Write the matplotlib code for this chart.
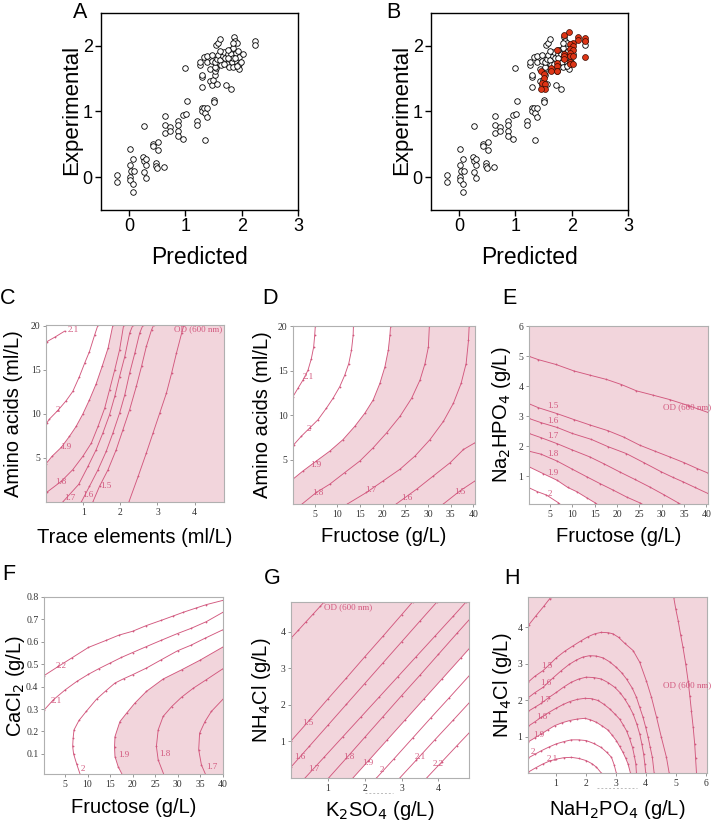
import matplotlib

matplotlib.use("Agg")

import matplotlib.pyplot as plt
from matplotlib.lines import Line2D

plt.rcParams["font.family"] = ["Liberation Sans", "DejaVu Sans"]

# ---- panel A / B : predicted vs experimental ----
WHITE_PTS = [
    (-0.22, 0.04), (-0.22, -0.08), (0.02, 0.43), (0.02, 0.18), (0.06, 0.27), (0.03, 0.10),
    (0.08, 0.10), (0.02, 0.0), (0.02, -0.04), (0.06, -0.11), (0.06, -0.23),
    (0.24, 0.31), (0.27, 0.25), (0.30, 0.27), (0.30, 0.18), (0.27, 0.08), (0.30, -0.01), (0.27, 0.78),
    (0.43, 0.51), (0.43, 0.47), (0.52, 0.54), (0.52, 0.42), (0.48, 0.21), (0.48, 0.17), (0.49, 0.14),
    (0.62, 0.15), (0.63, 0.80), (0.64, 0.93), (0.64, 0.68), (0.73, 0.76), (0.73, 0.70), (0.87, 0.86),
    (0.87, 0.79), (0.87, 0.71), (0.87, 0.63), (0.96, 0.58), (0.96, 0.95), (1.01, 0.96), (1.03, 1.16),
    (0.99, 1.66), (1.20, 0.85), (1.20, 0.79), (1.29, 1.06), (1.29, 1.00), (1.34, 0.57), (1.33, 1.06),
    (1.35, 0.98), (1.39, 1.06), (1.39, 0.91), (1.51, 1.18), (1.51, 1.14), (1.29, 1.37), (1.30, 1.52),
    (1.30, 1.55), (1.26, 1.71), (1.26, 1.76), (1.33, 1.83), (1.39, 1.84), (1.39, 1.75), (1.48, 1.86),
    (1.48, 1.77), (1.44, 1.64), (1.44, 1.46), (1.48, 1.41), (1.49, 1.48), (1.52, 1.55), (1.53, 1.62),
    (1.55, 1.66), (1.56, 1.42), (1.52, 1.68), (1.53, 1.75), (1.56, 1.80), (1.58, 1.86), (1.55, 2.01),
    (1.57, 2.05), (1.61, 2.10), (1.61, 1.78), (1.63, 1.71), (1.66, 1.85), (1.68, 1.90), (1.70, 1.81),
    (1.72, 1.40), (1.73, 1.73), (1.76, 1.87), (1.77, 1.68), (1.79, 1.93), (1.81, 1.87), (1.81, 1.35),
    (1.82, 1.76), (1.84, 1.81), (1.85, 1.97), (1.85, 1.68), (1.86, 2.13), (1.88, 2.07), (1.89, 1.89),
    (1.91, 1.76), (1.92, 2.05), (1.94, 1.92), (1.95, 1.83), (1.95, 1.72), (1.95, 1.65), (2.02, 1.88),
    (2.23, 2.07), (2.23, 2.01), (1.61, 1.92), (1.68, 1.73), (1.75, 1.81), (1.88, 1.81), (1.99, 1.76),
    (1.84, 2.04), (1.91, 1.70), (1.75, 1.93),
]
RED_PTS = [
    (1.86, 2.16), (1.96, 2.21), (2.11, 2.14), (2.11, 2.09), (2.24, 2.12), (2.24, 2.08), (2.02, 2.04),
    (1.97, 2.03), (2.02, 1.99), (1.97, 1.95), (2.02, 1.93), (1.86, 1.87), (1.87, 1.84), (1.87, 1.80),
    (1.97, 1.89), (1.97, 1.84), (2.02, 1.84), (1.97, 1.76), (1.97, 1.72), (2.02, 1.72), (1.74, 1.93),
    (1.73, 1.74), (1.73, 1.69), (1.73, 1.61), (1.64, 1.66), (1.64, 1.61), (1.74, 1.61), (1.46, 1.62),
    (1.50, 1.57), (1.50, 1.51), (1.47, 1.43), (1.53, 1.42), (1.53, 1.35), (1.46, 1.34), (2.24, 1.83),
]

# ---- contour panels: levels, traced lines, labels ----
C_LINES = {
    "2.1": [(0.02, 18.2), (0.25, 18.75), (0.5, 19.4)],
    "2": [(0.02, 8.96), (0.09, 9.41), (0.32, 10.40), (0.54, 11.49), (0.72, 12.55), (0.90, 14.25),
          (1.04, 15.76), (1.17, 17.09), (1.31, 18.98), (1.40, 20.11)],
    "1.9": [(0.0, 4.35), (0.16, 5.18), (0.41, 6.2), (0.63, 7.45), (0.81, 8.58), (0.99, 9.98),
            (1.17, 11.61), (1.35, 13.42), (1.51, 15.39), (1.67, 17.47), (1.80, 20.1)],
    "1.8": [(0.02, 1.10), (0.41, 2.34), (0.72, 3.67), (0.99, 5.18), (1.22, 6.69), (1.40, 8.58),
            (1.58, 10.66), (1.71, 12.74), (1.85, 15.01), (1.98, 17.28), (2.09, 20.1)],
    "1.7": [(0.45, 0.0), (0.88, 2.0), (1.13, 4.05), (1.35, 5.94), (1.53, 7.83), (1.71, 9.91),
            (1.85, 11.99), (1.98, 14.25), (2.12, 16.52), (2.25, 19.17), (2.34, 20.1)],
    "1.6": [(0.95, 0.0), (1.17, 1.78), (1.40, 3.67), (1.62, 5.75), (1.80, 7.83), (1.98, 10.09),
            (2.12, 12.17), (2.25, 14.63), (2.39, 16.90), (2.52, 19.17), (2.61, 20.1)],
    "1.5": [(1.26, 0.0), (1.44, 1.78), (1.67, 3.67), (1.89, 5.94), (2.07, 8.2), (2.25, 10.47),
            (2.43, 13.12), (2.57, 15.39), (2.70, 17.66), (2.84, 19.55), (2.90, 20.1)],
    "OD": [(2.23, 0.0), (2.48, 2.91), (2.70, 5.56), (2.88, 7.83), (3.06, 10.09), (3.24, 12.36),
           (3.38, 14.63), (3.51, 16.90), (3.65, 19.17), (3.71, 20.1)],
}
C_LABELS = [("2.1", 0.72, 19.55), ("2", 0.32, 10.4), ("1.9", 0.52, 6.3), ("1.8", 0.41, 2.27),
            ("1.7", 0.65, 0.45), ("1.6", 1.13, 0.83), ("1.5", 1.6, 1.78), ("OD (600 nm)", 4.75, 19.6)]

D_LINES = {
    "2.1": [(0.2, 12.1), (1.29, 13.03), (2.40, 13.96), (3.51, 15.07), (4.25, 16.37), (4.76, 17.67),
            (4.99, 18.98), (5.13, 20.05)],
    "2": [(0.41, 6.70), (2.03, 7.63), (3.88, 8.56), (5.72, 9.49), (7.57, 10.79), (9.05, 11.91),
          (10.52, 13.21), (11.63, 14.51), (12.52, 15.82), (13.11, 17.30), (13.48, 18.98), (13.55, 20.05)],
    "1.9": [(0.0, 2.72), (2.40, 3.72), (5.35, 4.84), (8.31, 5.95), (11.26, 7.26), (13.85, 8.75),
            (16.07, 10.23), (17.91, 11.72), (19.39, 13.59), (20.50, 15.45), (21.24, 17.31),
            (21.60, 18.98), (21.75, 20.05)],
    "1.8": [(2.2, 0.0), (5.35, 1.30), (8.31, 2.23), (11.63, 3.54), (14.96, 4.84), (17.91, 6.33),
            (20.86, 8.0), (23.82, 9.86), (26.40, 11.91), (28.25, 13.96), (29.36, 15.82),
            (30.10, 17.68), (30.32, 20.05)],
    "1.7": [(12.2, 0.0), (16.43, 1.30), (20.13, 2.61), (23.82, 3.91), (27.14, 5.40), (30.47, 7.26),
            (33.42, 9.30), (35.63, 11.35), (37.33, 13.58), (38.44, 15.82), (38.96, 18.42), (39.11, 20.05)],
    "1.6": [(23.0, 0.0), (27.51, 1.67), (31.20, 3.16), (34.90, 4.65), (37.85, 6.14), (40.4, 6.9)],
    "1.5": [(33.4, 0.0), (37.11, 1.49), (40.4, 2.6)],
}
D_LABELS = [("2.1", 3.5, 14.3), ("2", 3.73, 8.4), ("1.9", 5.2, 4.35), ("1.8", 5.7, 1.2),
            ("1.7", 17.5, 1.6), ("1.6", 25.3, 0.7), ("1.5", 37.1, 1.3)]

E_LINES = {
    "OD": [(0.3, 4.99), (2.38, 4.88), (6.3, 4.72), (10.43, 4.50), (14.0, 4.36), (17.66, 4.22),
           (21.0, 4.05), (24.37, 3.84), (28.0, 3.70), (31.8, 3.55), (36.0, 3.35), (40.4, 3.12)],
    "1.5": [(0.3, 3.41), (2.38, 3.28), (6.6, 3.08), (10.43, 2.88), (14.0, 2.70), (18.03, 2.51),
            (21.5, 2.30), (25.1, 2.03), (28.5, 1.83), (31.8, 1.64), (35.0, 1.45), (38.0, 1.25), (40.4, 1.10)],
    "1.6": [(0.3, 2.92), (3.0, 2.78), (6.6, 2.62), (10.0, 2.42), (14.3, 2.22), (18.0, 1.98),
            (22.1, 1.75), (26.0, 1.45), (29.95, 1.14), (32.5, 0.96), (34.8, 0.81), (37.5, 0.62), (40.4, 0.42)],
    "1.7": [(0.3, 2.42), (3.0, 2.28), (6.6, 2.08), (10.0, 1.87), (13.9, 1.64), (17.2, 1.40),
            (20.6, 1.14), (24.0, 0.89), (27.3, 0.64), (30.5, 0.38), (33.7, 0.11), (35.0, 0.0)],
    "1.8": [(0.3, 1.83), (3.0, 1.73), (6.6, 1.50), (10.0, 1.23), (13.2, 0.98), (16.2, 0.75),
            (19.2, 0.53), (22.2, 0.30), (25.1, 0.11), (26.5, 0.0)],
    "1.9": [(0.3, 1.31), (3.5, 1.08), (6.6, 0.86), (9.0, 0.62), (11.0, 0.48), (13.2, 0.28),
            (15.1, 0.11), (16.2, 0.0)],
    "2": [(0.3, 0.61), (2.2, 0.48), (4.2, 0.37), (6.9, 0.11), (7.8, 0.0)],
}
E_LABELS = [("1.5", 5.6, 3.33), ("1.6", 5.7, 2.84), ("1.7", 5.7, 2.33), ("1.8", 5.7, 1.75),
            ("1.9", 5.7, 1.11), ("2", 5.0, 0.40), ("OD (600 nm)", 30.3, 3.28)]

F_LINES = {
    "2.2": [(0.33, 0.449), (3.5, 0.49), (6.5, 0.528), (10.2, 0.575), (14.2, 0.607), (17.0, 0.63),
            (20.0, 0.647), (23.0, 0.672), (26.4, 0.696), (29.0, 0.715), (31.3, 0.732), (34.0, 0.75),
            (36.4, 0.766), (40.1, 0.785)],
    "2.1": [(0.33, 0.295), (2.4, 0.341), (5.0, 0.385), (7.6, 0.423), (10.2, 0.455), (12.5, 0.48),
            (15.0, 0.505), (17.5, 0.53), (20.0, 0.552), (23.0, 0.578), (26.4, 0.607), (30.0, 0.637),
            (33.0, 0.66), (36.4, 0.69), (40.1, 0.732)],
    "2": [(8.5, 0.0), (7.6, 0.054), (6.9, 0.10), (6.7, 0.133), (6.8, 0.17), (7.0, 0.207), (8.1, 0.249),
          (9.7, 0.289), (12.0, 0.344), (14.0, 0.38), (16.1, 0.416), (18.0, 0.435), (20.0, 0.453),
          (23.1, 0.483), (26.4, 0.52), (30.0, 0.56), (33.0, 0.585), (36.0, 0.615), (40.1, 0.654)],
    "1.9": [(17.9, 0.0), (16.8, 0.043), (16.1, 0.088), (16.0, 0.13), (16.1, 0.177), (17.2, 0.244),
            (18.7, 0.282), (20.5, 0.326), (23.1, 0.379), (26.8, 0.434), (30.9, 0.475), (34.9, 0.517),
            (40.1, 0.577)],
    "1.8": [(27.1, 0.0), (25.7, 0.073), (25.3, 0.133), (25.7, 0.207), (26.8, 0.267), (28.7, 0.311),
            (30.9, 0.353), (33.5, 0.393), (36.4, 0.431), (40.1, 0.48)],
    "1.7": [(36.4, 0.0), (35.3, 0.051), (34.7, 0.118), (34.9, 0.192), (36.1, 0.244), (37.5, 0.289),
            (40.1, 0.344)],
}
F_LABELS = [("2.2", 4.25, 0.49), ("2.1", 3.14, 0.338), ("2", 8.9, 0.031), ("1.9", 18.0, 0.095),
            ("1.8", 27.2, 0.10), ("1.7", 37.6, 0.04)]

G_LINES = {
    "OD": [(0.0, 3.82), (0.2, 4.04), (0.4, 4.26), (0.6, 4.48), (0.8, 4.70), (0.9, 4.81)],
    "1.5": [(0.0, 1.01), (0.5, 1.58), (1.0, 2.16), (1.5, 2.73), (2.0, 3.31), (2.5, 3.88), (3.0, 4.46),
            (3.3, 4.81)],
    "1.6": [(0.0, 0.30), (0.5, 0.87), (1.0, 1.44), (1.5, 2.01), (2.0, 2.58), (2.5, 3.15), (3.0, 3.72),
            (3.5, 4.29), (3.96, 4.81)],
    "1.7": [(0.38, 0.0), (0.9, 0.57), (1.4, 1.12), (1.9, 1.67), (2.4, 2.22), (2.9, 2.77), (3.4, 3.32),
            (3.9, 3.87), (4.4, 4.42), (4.75, 4.81)],
    "1.8": [(1.02, 0.0), (1.5, 0.54), (2.0, 1.11), (2.5, 1.68), (3.0, 2.25), (3.5, 2.81), (4.0, 3.38),
            (4.5, 3.95), (4.83, 4.32)],
    "1.9": [(1.68, 0.0), (2.1, 0.47), (2.6, 1.03), (3.1, 1.59), (3.6, 2.15), (4.1, 2.71), (4.6, 3.27),
            (4.83, 3.53)],
    "2": [(2.32, 0.0), (2.8, 0.53), (3.3, 1.09), (3.8, 1.65), (4.3, 2.20), (4.83, 2.79)],
    "2.1": [(2.95, 0.0), (3.4, 0.49), (3.9, 1.04), (4.4, 1.58), (4.83, 2.05)],
    "2.2": [(3.68, 0.0), (4.1, 0.45), (4.5, 0.88), (4.83, 1.23)],
}
G_LABELS = [("OD (600 nm)", 0.9, 4.68), ("1.5", 0.47, 1.5), ("1.6", 0.25, 0.57), ("1.7", 0.63, 0.25),
            ("1.8", 1.56, 0.57), ("1.9", 2.09, 0.41), ("2", 2.46, 0.23), ("2.1", 3.5, 0.57),
            ("2.2", 3.99, 0.39)]

H_LINES = {
    "1.4": [(0.11, 4.07), (0.35, 4.32), (0.6, 4.57), (0.8, 4.78), (0.85, 4.83)],
    "OD": [(4.93, 4.83), (5.0, 4.5), (5.08, 4.18), (5.16, 3.8), (5.24, 3.45), (5.33, 3.0), (5.41, 2.53),
           (5.47, 2.1), (5.52, 1.71), (5.58, 1.25), (5.63, 0.80), (5.66, 0.4), (5.69, 0.0)],
    "1.5": [(0.08, 2.49), (0.3, 2.65), (0.58, 2.81), (0.8, 2.98), (1.02, 3.16), (1.3, 3.34), (1.58, 3.49),
            (1.85, 3.63), (2.08, 3.74), (2.3, 3.82), (2.52, 3.86), (2.75, 3.85), (2.91, 3.82), (3.1, 3.72),
            (3.3, 3.56), (3.58, 3.36), (3.8, 3.04), (4.02, 2.53), (4.19, 2.08), (4.36, 1.53), (4.52, 0.98),
            (4.69, 0.43), (4.78, 0.0)],
    "1.6": [(0.08, 2.06), (0.3, 2.2), (0.58, 2.35), (0.9, 2.6), (1.19, 2.81), (1.45, 2.98), (1.69, 3.10),
            (1.9, 3.18), (2.13, 3.22), (2.35, 3.21), (2.58, 3.16), (2.8, 3.05), (3.02, 2.90), (3.2, 2.75),
            (3.36, 2.58), (3.55, 2.33), (3.69, 2.08), (3.8, 1.8), (3.91, 1.53), (4.0, 1.25), (4.08, 0.98),
            (4.15, 0.7), (4.22, 0.43), (4.28, 0.0)],
    "1.7": [(0.08, 1.69), (0.3, 1.8), (0.52, 1.91), (0.77, 2.07), (1.02, 2.21), (1.27, 2.36), (1.52, 2.49),
            (1.77, 2.58), (2.02, 2.63), (2.27, 2.62), (2.52, 2.58), (2.75, 2.48), (2.97, 2.35), (3.15, 2.2),
            (3.3, 2.03), (3.45, 1.83), (3.58, 1.62), (3.7, 1.35), (3.8, 1.07), (3.87, 0.8), (3.93, 0.52),
            (3.97, 0.25), (4.0, 0.0)],
    "1.8": [(0.08, 1.28), (0.3, 1.40), (0.52, 1.53), (0.77, 1.66), (1.02, 1.78), (1.25, 1.88), (1.47, 1.96),
            (1.72, 2.02), (1.97, 2.05), (2.2, 2.04), (2.41, 1.99), (2.6, 1.89), (2.8, 1.76), (2.97, 1.62),
            (3.13, 1.48), (3.25, 1.32), (3.36, 1.16), (3.46, 0.95), (3.56, 0.70), (3.62, 0.47), (3.67, 0.25),
            (3.69, 0.0)],
    "1.9": [(0.08, 0.85), (0.3, 0.96), (0.52, 1.07), (0.75, 1.19), (0.97, 1.30), (1.22, 1.38), (1.47, 1.44),
            (1.72, 1.48), (1.97, 1.50), (2.16, 1.46), (2.36, 1.39), (2.55, 1.29), (2.74, 1.18), (2.88, 1.04),
            (3.02, 0.89), (3.13, 0.73), (3.24, 0.57), (3.33, 0.41), (3.41, 0.25), (3.49, 0.0)],
    "2": [(0.08, 0.41), (0.3, 0.51), (0.52, 0.61), (0.77, 0.71), (1.02, 0.80), (1.27, 0.86), (1.52, 0.91),
          (1.77, 0.91), (2.02, 0.89), (2.27, 0.81), (2.52, 0.70), (2.7, 0.57), (2.86, 0.43), (2.95, 0.22),
          (3.02, 0.0)],
    "2.1": [(0.08, 0.02), (0.33, 0.14), (0.58, 0.25), (0.8, 0.33), (1.02, 0.38), (1.27, 0.42), (1.52, 0.43),
            (1.77, 0.40), (2.02, 0.34), (2.2, 0.26), (2.36, 0.16), (2.52, 0.0)],
}
H_LABELS = [("1.5", 0.7, 2.95), ("1.6", 0.68, 2.47), ("1.7", 0.64, 1.99), ("1.8", 0.53, 1.53),
            ("1.9", 0.45, 1.05), ("2", 0.25, 0.57), ("2.1", 0.88, 0.38), ("OD (600 nm)", 4.56, 2.40)]

LINE_COL = "#d2587e"
PINK = "#f2d5dc"
SERIF = ["Liberation Serif", "DejaVu Serif"]


def scatter_panel(ax, red=None):
    xs, ys = zip(*WHITE_PTS)
    ax.scatter(xs, ys, s=16, facecolor="white", edgecolor="black", linewidth=0.6, zorder=2)
    if red:
        rx, ry = zip(*red)
        ax.scatter(rx, ry, s=18, facecolor="#de3516", edgecolor="#3a0a00", linewidth=0.5, zorder=3)
    ax.set_xlim(-0.5, 3)
    ax.set_ylim(-0.5, 2.5)
    ax.set_xticks([0, 1, 2, 3])
    ax.set_yticks([0, 1, 2])
    ax.tick_params(direction="out", length=4, width=1, labelsize=13, pad=2)
    for sp in ax.spines.values():
        sp.set_linewidth(1.0)
    ax.set_xlabel("Predicted", fontsize=16.5, va="center")
    ax.set_ylabel("Experimental", fontsize=16, va="center")
    ax.xaxis.set_label_coords(0.5, -0.24)


def contour_panel(ax, lines, labels, boundary, corners, xlim, ylim, xticks, yticks,
                  xlabel, ylabel, pink_face=False):
    ax.set_xlim(*xlim)
    ax.set_ylim(*ylim)
    x0, x1 = xlim
    y0, y1 = ylim
    pts = {"bl": (x0, y0), "br": (x1, y0), "tl": (x0, y1), "tr": (x1, y1)}
    poly = list(lines[boundary]) + [pts[c] for c in corners]
    px, py = zip(*poly)
    if pink_face:
        ax.set_facecolor(PINK)
        ax.fill(px, py, color="white", lw=0, zorder=0)
    else:
        ax.fill(px, py, color=PINK, lw=0, zorder=0)
    for key, seg in lines.items():
        lx, ly = zip(*seg)
        ax.plot(lx, ly, color=LINE_COL, lw=0.65, marker="o", ms=1.3, mew=0, zorder=2)
    for txt, tx, ty in labels:
        ha = "center"
        if txt.startswith("OD"):
            ha = "right" if tx > 0.9 * x1 and tx < x1 else "left"
        ax.text(tx, ty, txt, color=LINE_COL, fontsize=6.5, family=SERIF, ha=ha, va="center", zorder=3)
    ax.set_xticks(xticks)
    ax.set_yticks(yticks)
    ax.set_xticklabels([f"{t:g}" for t in xticks], family=SERIF)
    ax.set_yticklabels([f"{t:g}" for t in yticks], family=SERIF)
    ax.tick_params(direction="out", length=2, width=0.6, color="#888888", labelsize=7,
                   labelcolor="#333333", pad=2)
    for sp in ax.spines.values():
        sp.set_color("#b0b0b0")
        sp.set_linewidth(0.8)
    ax.set_xlabel(xlabel, fontsize=14.5, va="center")
    ax.set_ylabel(ylabel, fontsize=14.5, va="center")


fig = plt.figure(figsize=(7.13, 8.22), dpi=100)
W, H = 713.0, 822.0


def add_axes(l, t, r, b):
    return fig.add_axes([l / W, 1 - b / H, (r - l) / W, (b - t) / H])


axA = add_axes(101, 13, 298, 210)
scatter_panel(axA)
axA.yaxis.set_label_coords(-0.15, 0.51)

axB = add_axes(431, 13, 628, 210)
scatter_panel(axB, RED_PTS)
axB.yaxis.set_label_coords(-0.15, 0.51)

axC = add_axes(46, 325, 224, 502)
contour_panel(axC, C_LINES, C_LABELS, "1.9", ["tr", "br", "bl"], (0, 4.79), (0, 20.1),
              [1, 2, 3, 4], [5, 10, 15, 20], "Trace elements (ml/L)", "Amino acids (ml/L)")
axC.xaxis.set_label_coords(0.5, -0.198)
axC.yaxis.set_label_coords(-0.185, 0.5)

axD = add_axes(293, 326, 475, 504)
contour_panel(axD, D_LINES, D_LABELS, "1.9", ["tr", "br", "bl"], (0.2, 40.4), (0, 20.05),
              [5, 10, 15, 20, 25, 30, 35, 40], [5, 10, 15, 20], "Fructose (g/L)", "Amino acids (ml/L)")
axD.xaxis.set_label_coords(0.5, -0.185)
axD.yaxis.set_label_coords(-0.17, 0.5)

axE = add_axes(529, 326, 708, 504)
contour_panel(axE, E_LINES, E_LABELS, "1.9", ["bl"], (0.3, 40.4), (0.07, 6.0),
              [5, 10, 15, 20, 25, 30, 35, 40], [1, 2, 3, 4, 5, 6], "Fructose (g/L)",
              "Na$_2$HPO$_4$ (g/L)", pink_face=True)
axE.xaxis.set_label_coords(0.5, -0.185)
axE.yaxis.set_label_coords(-0.151, 0.5)

axF = add_axes(44, 597, 223, 774)
contour_panel(axF, F_LINES, F_LABELS, "1.9", ["br"], (0.33, 40.1), (0.01, 0.8),
              [5, 10, 15, 20, 25, 30, 35, 40], [0.1, 0.2, 0.3, 0.4, 0.5, 0.6, 0.7, 0.8],
              "Fructose (g/L)", "CaCl$_2$ (g/L)")
axF.xaxis.set_label_coords(0.5, -0.192)
axF.yaxis.set_label_coords(-0.162, 0.5)

axG = add_axes(291, 602, 469, 778)
contour_panel(axG, G_LINES, G_LABELS, "1.9", ["tr", "tl", "bl"], (0, 4.83), (0, 4.81),
              [1, 2, 3, 4], [1, 2, 3, 4], "K$_2$SO$_4$ (g/L)", "NH$_4$Cl (g/L)")
axG.xaxis.set_label_coords(0.5, -0.182)
axG.yaxis.set_label_coords(-0.163, 0.5)

axH = add_axes(528, 597, 707, 773)
contour_panel(axH, H_LINES, H_LABELS, "1.9", ["bl"], (0.08, 6.04), (0, 4.83),
              [1, 2, 3, 4, 5, 6], [1, 2, 3, 4], "NaH$_2$PO$_4$ (g/L)", "NH$_4$Cl (g/L)",
              pink_face=True)
axH.xaxis.set_label_coords(0.5, -0.205)
axH.yaxis.set_label_coords(-0.145, 0.5)

# faint dashed marks under the G and H axes
for (xa, xb, yy) in [(365, 393, 793), (597, 637, 788)]:
    fig.add_artist(Line2D([xa / W, xb / W], [1 - yy / H, 1 - yy / H], color="#bbbbbb",
                          lw=0.7, ls=(0, (2, 2))))

for letter, lx, ly in [("A", 80, 13), ("B", 393, 13), ("C", 8, 298), ("D", 270, 298),
                       ("E", 509, 298), ("F", 9, 575), ("G", 272, 578), ("H", 512, 578)]:
    fig.text(lx / W, 1 - ly / H, letter, fontsize=15.5, ha="center", va="center")

fig.savefig("out.png", dpi=100)
